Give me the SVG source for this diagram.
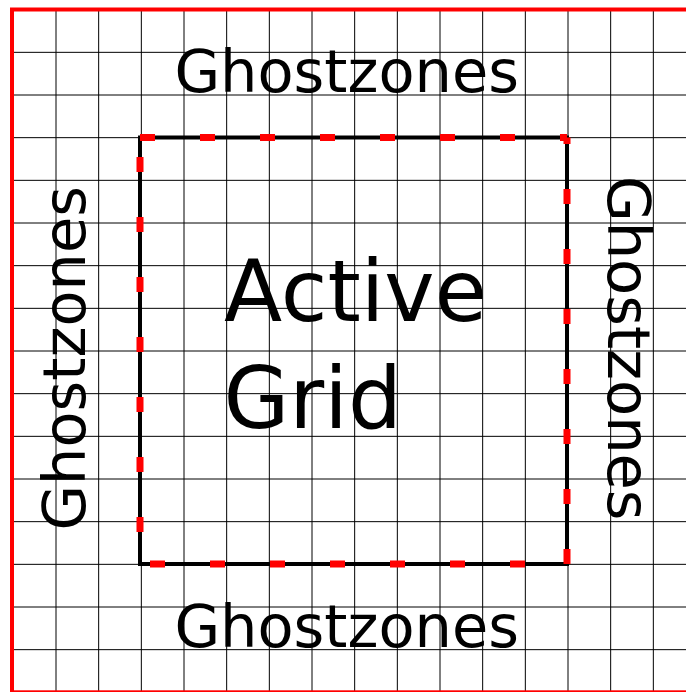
<svg xmlns="http://www.w3.org/2000/svg" width="686" height="692" viewBox="0 0 686 692">
<style>
.grid line { stroke: #000; stroke-width: 1; }
.lbl { font-family: "DejaVu Sans", "Liberation Sans", sans-serif; fill: #000; }
.gz { font-size: 59px; text-anchor: middle; }
.big { font-size: 85px; }
.reddash { stroke: #ff0000; stroke-width: 7; stroke-dasharray: 15 45; fill: none; }
</style>
<rect width="686" height="692" fill="#fff"/>
<g id="grid" class="grid">
  <line x1="56" y1="9.67" x2="56" y2="692"/>
  <line x1="98.67" y1="9.67" x2="98.67" y2="692"/>
  <line x1="141.33" y1="9.67" x2="141.33" y2="692"/>
  <line x1="184" y1="9.67" x2="184" y2="692"/>
  <line x1="226.67" y1="9.67" x2="226.67" y2="692"/>
  <line x1="269.33" y1="9.67" x2="269.33" y2="692"/>
  <line x1="312" y1="9.67" x2="312" y2="692"/>
  <line x1="354.67" y1="9.67" x2="354.67" y2="692"/>
  <line x1="397.33" y1="9.67" x2="397.33" y2="692"/>
  <line x1="440" y1="9.67" x2="440" y2="692"/>
  <line x1="482.67" y1="9.67" x2="482.67" y2="692"/>
  <line x1="525.33" y1="9.67" x2="525.33" y2="692"/>
  <line x1="568" y1="9.67" x2="568" y2="692"/>
  <line x1="610.67" y1="9.67" x2="610.67" y2="692"/>
  <line x1="653.33" y1="9.67" x2="653.33" y2="692"/>
  <line x1="13" y1="52.33" x2="686" y2="52.33"/>
  <line x1="13" y1="95" x2="686" y2="95"/>
  <line x1="13" y1="137.67" x2="686" y2="137.67"/>
  <line x1="13" y1="180.33" x2="686" y2="180.33"/>
  <line x1="13" y1="223" x2="686" y2="223"/>
  <line x1="13" y1="265.67" x2="686" y2="265.67"/>
  <line x1="13" y1="308.33" x2="686" y2="308.33"/>
  <line x1="13" y1="351" x2="686" y2="351"/>
  <line x1="13" y1="393.67" x2="686" y2="393.67"/>
  <line x1="13" y1="436.33" x2="686" y2="436.33"/>
  <line x1="13" y1="479" x2="686" y2="479"/>
  <line x1="13" y1="521.67" x2="686" y2="521.67"/>
  <line x1="13" y1="564.33" x2="686" y2="564.33"/>
  <line x1="13" y1="607" x2="686" y2="607"/>
  <line x1="13" y1="649.67" x2="686" y2="649.67"/>
</g>
<g id="border">
  <rect x="12" y="9.5" width="690" height="682.8" fill="none" stroke="#ff0000" stroke-width="4"/>
</g>
<g id="active-box">
  <rect x="140" y="137.5" width="427" height="426.5" fill="none" stroke="#000" stroke-width="4"/>
  <line class="reddash" x1="140" y1="137.5" x2="567" y2="137.5" stroke-dashoffset="0"/>
  <line class="reddash" x1="567" y1="137.5" x2="567" y2="564" stroke-dashoffset="8.5"/>
  <line class="reddash" x1="140" y1="564" x2="567" y2="564" stroke-dashoffset="50"/>
  <line class="reddash" x1="140" y1="137.5" x2="140" y2="564" stroke-dashoffset="40.5"/>
</g>
<g id="label-top"><text class="lbl gz" x="346.7" y="92">Ghostzones</text></g>
<g id="label-bottom"><text class="lbl gz" x="346.7" y="647">Ghostzones</text></g>
<g id="label-left"><text class="lbl gz" transform="translate(85,358.3) rotate(-90)" x="0" y="0">Ghostzones</text></g>
<g id="label-right"><text class="lbl gz" transform="translate(607.5,348.3) rotate(90)" x="0" y="0">Ghostzones</text></g>
<g id="label-active">
  <text class="lbl big" x="224" y="321">Active</text>
  <text class="lbl big" x="223.5" y="428">Grid</text>
</g>
</svg>
